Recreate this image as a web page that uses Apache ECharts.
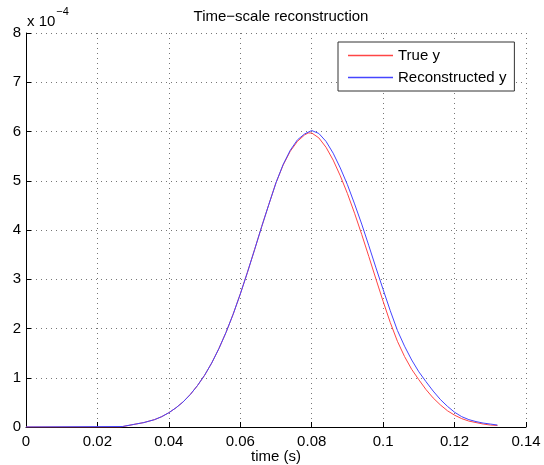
<!DOCTYPE html>
<html>
<head>
<meta charset="utf-8">
<script src="https://cdn.jsdelivr.net/npm/echarts@6/dist/echarts.min.js"></script>
<style>
html,body{margin:0;padding:0;background:#fff;}
#c{width:544px;height:465px;}
</style>
</head>
<body>
<div id="c"></div>
<script>
// Values in units of 1e-4
const tTrue = [0, 0.0265, 0.027, 0.030, 0.033, 0.036, 0.038, 0.040, 0.042, 0.044, 0.046, 0.048, 0.050, 0.052, 0.054, 0.056, 0.058, 0.060, 0.062, 0.064, 0.066, 0.068, 0.070, 0.072, 0.074, 0.076, 0.078, 0.079, 0.080, 0.082, 0.084, 0.086, 0.088, 0.090, 0.092, 0.094, 0.096, 0.098, 0.100, 0.102, 0.104, 0.106, 0.108, 0.110, 0.112, 0.114, 0.116, 0.118, 0.120, 0.122, 0.124, 0.126, 0.128, 0.130, 0.132];
const yTrue = [0, 0, 0.03, 0.05, 0.09, 0.15, 0.21, 0.29, 0.39, 0.51, 0.66, 0.84, 1.05, 1.30, 1.59, 1.92, 2.29, 2.70, 3.14, 3.60, 4.07, 4.52, 4.96, 5.32, 5.60, 5.80, 5.93, 5.97, 5.97, 5.87, 5.68, 5.42, 5.10, 4.74, 4.34, 3.91, 3.46, 3.00, 2.55, 2.12, 1.74, 1.43, 1.17, 0.96, 0.76, 0.59, 0.45, 0.33, 0.24, 0.17, 0.12, 0.09, 0.06, 0.04, 0.03];
const tRecon = [0, 0.027, 0.030, 0.033, 0.036, 0.038, 0.040, 0.042, 0.044, 0.046, 0.048, 0.050, 0.052, 0.054, 0.056, 0.058, 0.060, 0.062, 0.064, 0.066, 0.068, 0.070, 0.072, 0.074, 0.076, 0.078, 0.080, 0.082, 0.084, 0.086, 0.088, 0.090, 0.092, 0.094, 0.096, 0.098, 0.100, 0.102, 0.104, 0.106, 0.108, 0.110, 0.112, 0.114, 0.116, 0.118, 0.120, 0.122, 0.124, 0.126, 0.128, 0.130, 0.132];
const yRecon = [0, 0.01, 0.05, 0.09, 0.15, 0.21, 0.29, 0.39, 0.51, 0.66, 0.84, 1.05, 1.30, 1.59, 1.92, 2.29, 2.70, 3.14, 3.60, 4.07, 4.52, 4.96, 5.33, 5.62, 5.83, 5.95, 6.02, 5.96, 5.80, 5.56, 5.26, 4.92, 4.53, 4.12, 3.68, 3.23, 2.79, 2.36, 1.96, 1.64, 1.36, 1.12, 0.92, 0.73, 0.56, 0.42, 0.30, 0.21, 0.15, 0.11, 0.08, 0.06, 0.04];
const seriesNames = ['True y', 'Reconstructed y'];
const xTicks = [0, 0.02, 0.04, 0.06, 0.08, 0.1, 0.12, 0.14];
const yTicks = [0, 1, 2, 3, 4, 5, 6, 7, 8];

const FONT = 'Liberation Sans, Arial, sans-serif';
const RED = '#ff4545', BLUE = '#4545ff';
const chart = echarts.init(document.getElementById('c'));
const pair = (xs, ys) => xs.map((x, i) => [x, ys[i]]);
const gridLine = { show: true, lineStyle: { color: '#777', type: [1, 4], width: 1 } };
chart.setOption({
  animation: false,
  backgroundColor: '#fff',
  color: [RED, BLUE],
  title: {
    text: 'Time\u2212scale reconstruction',
    left: 276, textAlign: 'center', top: 4,
    textStyle: { fontFamily: FONT, fontSize: 15, fontWeight: 'normal', color: '#000' }
  },
  graphic: [{
    type: 'text', left: 27, top: 6,
    style: {
      text: '{a|x 10}{b|\u22124}',
      rich: {
        a: { fontFamily: FONT, fontSize: 15, fill: '#000', padding: [12, 0, 0, 0] },
        b: { fontFamily: FONT, fontSize: 11, fill: '#000', padding: [0, 0, 8, 1] }
      }
    }
  }],
  legend: {
    orient: 'vertical', left: 338, top: 42,
    padding: [6, 8, 6, 10], itemGap: 7,
    itemWidth: 45, itemHeight: 1.5, icon: 'rect',
    backgroundColor: '#fff', borderColor: '#333', borderWidth: 1,
    textStyle: { fontFamily: FONT, fontSize: 15, color: '#000' },
    data: [
      { name: seriesNames[0], itemStyle: { color: RED } },
      { name: seriesNames[1], itemStyle: { color: BLUE } }
    ]
  },
  grid: { left: 26, right: 18, top: 33, bottom: 38, containLabel: false, outerBoundsMode: 'none' },
  xAxis: {
    type: 'value', min: xTicks[0], max: xTicks[xTicks.length - 1], interval: 0.02,
    name: 'time (s)', nameLocation: 'middle', nameGap: 22, nameMoveOverlap: false,
    nameTextStyle: { fontFamily: FONT, fontSize: 15, color: '#000' },
    axisLine: { show: true, onZero: false, lineStyle: { color: '#000', width: 1 } },
    axisTick: { show: true, inside: true, length: 5, lineStyle: { color: '#000' } },
    axisLabel: { fontFamily: FONT, fontSize: 15, color: '#000', margin: 7,
      formatter: v => String(+v.toFixed(2)) },
    splitLine: gridLine
  },
  yAxis: {
    type: 'value', min: yTicks[0], max: yTicks[yTicks.length - 1], interval: 1,
    axisLine: { show: true, onZero: false, lineStyle: { color: '#000', width: 1 } },
    axisTick: { show: true, inside: true, length: 5, lineStyle: { color: '#000' } },
    axisLabel: { fontFamily: FONT, fontSize: 15, color: '#000', margin: 5 },
    splitLine: gridLine
  },
  series: [
    { name: seriesNames[0], type: 'line', showSymbol: false, symbol: 'none',
      data: pair(tTrue, yTrue), color: RED, lineStyle: { color: RED, width: 1 }, itemStyle: { color: RED } },
    { name: seriesNames[1], type: 'line', showSymbol: false, symbol: 'none',
      data: pair(tRecon, yRecon), color: BLUE, lineStyle: { color: BLUE, width: 1 }, itemStyle: { color: BLUE } }
  ]
});
</script>
</body>
</html>
